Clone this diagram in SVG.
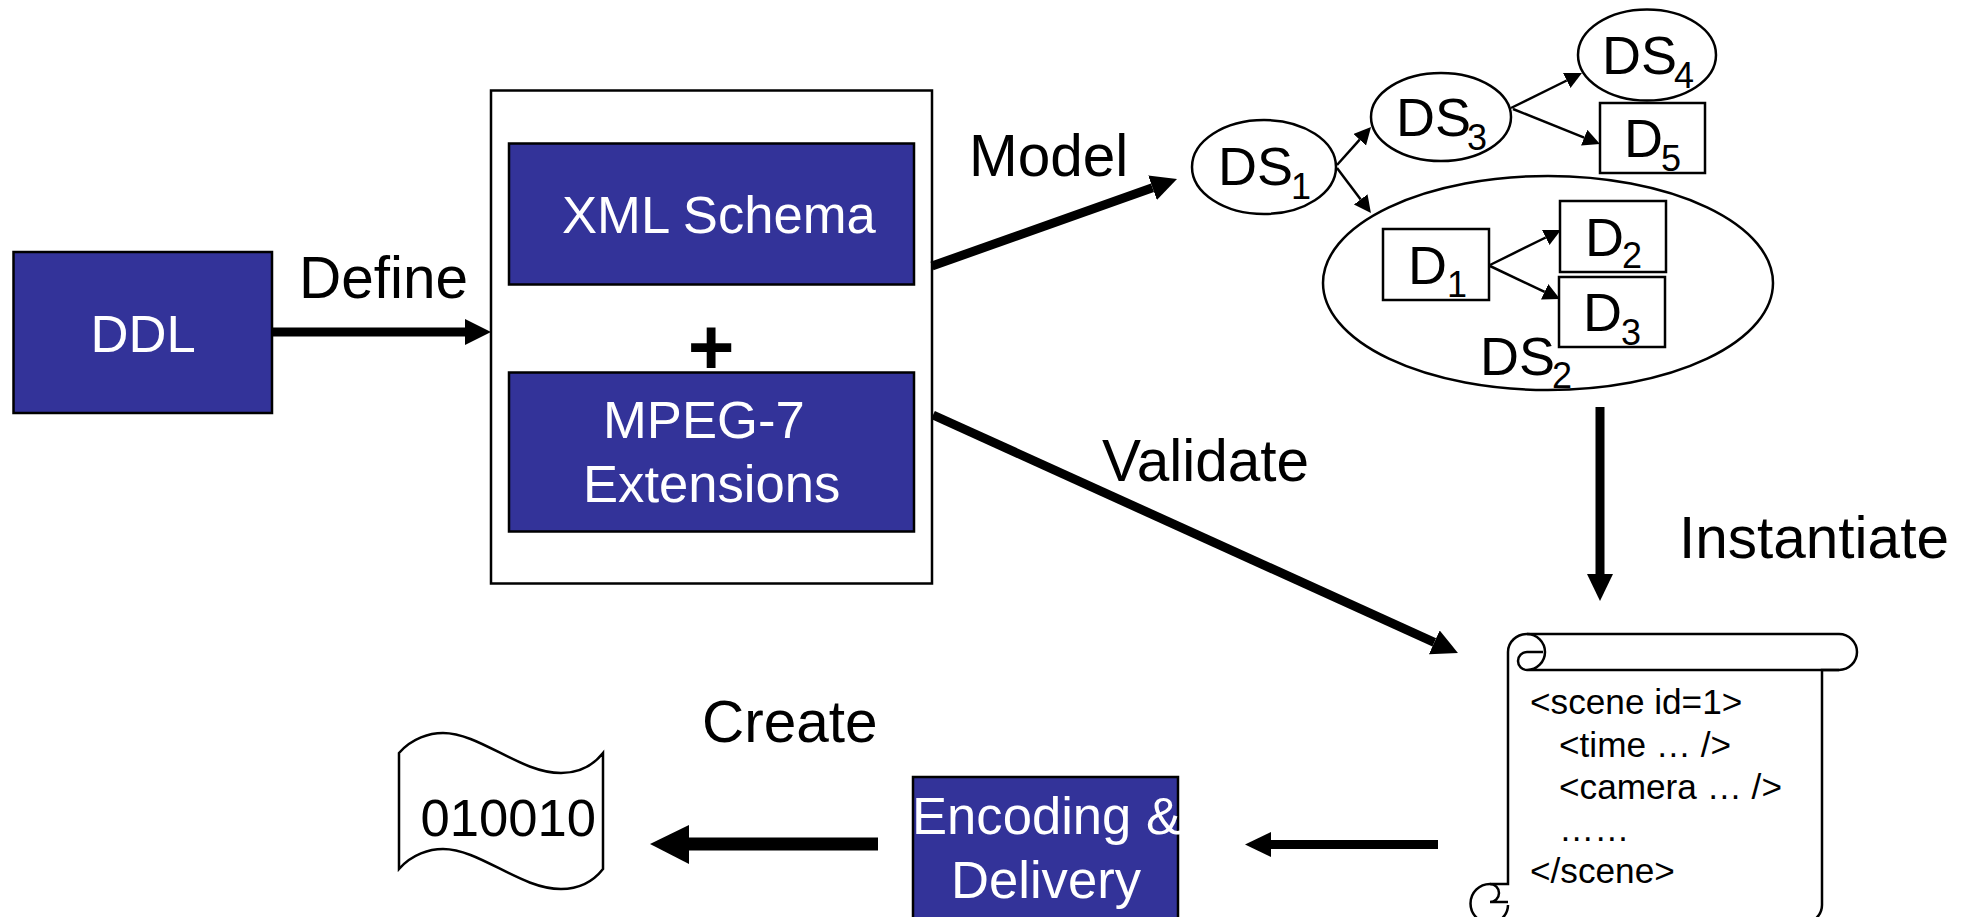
<svg xmlns="http://www.w3.org/2000/svg" width="1965" height="917" viewBox="0 0 1965 917">
<style>
text{font-family:"Liberation Sans",Arial,sans-serif;fill:#000}
.t{font-size:58.5px}.w{font-size:52.6px;fill:#fff}.n{font-size:54px}.z{font-size:52.6px}.s{font-size:36px}.c{font-size:35.2px}
.b{fill:#333399;stroke:#000;stroke-width:2.5}
.o{fill:#fff;stroke:#000;stroke-width:2.5}
.l{fill:none;stroke:#000;stroke-width:2.5}
.a9{fill:none;stroke:#000;stroke-width:9}
</style>
<defs>
<marker id="h" markerUnits="userSpaceOnUse" markerWidth="18" markerHeight="18" refX="0" refY="8.5" orient="auto"><path d="M0 0L17 8.5L0 17Z"/></marker>
<marker id="H" markerUnits="userSpaceOnUse" markerWidth="28" markerHeight="28" refX="0" refY="13" orient="auto"><path d="M0 0L26 13L0 26Z"/></marker>
</defs>
<rect width="1965" height="917" fill="#fff"/>
<g id="ddl"><rect class="b" x="13.5" y="252" width="258.5" height="161"/><text class="w" x="90.5" y="352">DDL</text></g>
<g id="container"><rect class="o" x="491" y="90.5" width="441" height="493"/></g>
<g id="xml-schema"><rect class="b" x="509" y="143.5" width="405" height="141"/><text class="w" x="562" y="233">XML Schema</text></g>
<text id="plus" x="711" y="373.5" font-size="80" font-weight="bold" text-anchor="middle">+</text>
<g id="mpeg7"><rect class="b" x="509" y="372.5" width="405" height="159"/><text class="w" x="603" y="438">MPEG-7</text><text class="w" x="583" y="502">Extensions</text></g>
<g id="ds1"><ellipse class="o" cx="1264" cy="167" rx="72" ry="47"/><text class="n" x="1218" y="185">DS</text><text class="s" x="1291" y="199">1</text></g>
<g id="ds3"><ellipse class="o" cx="1441" cy="117" rx="70" ry="44"/><text class="n" x="1396" y="136">DS</text><text class="s" x="1467" y="150">3</text></g>
<g id="ds4"><ellipse class="o" cx="1647" cy="55" rx="69" ry="45.5"/><text class="n" x="1602" y="74">DS</text><text class="s" x="1674" y="88">4</text></g>
<g id="d5"><rect class="o" x="1600" y="103" width="105" height="70"/><text class="n" x="1624" y="157">D</text><text class="s" x="1661" y="171">5</text></g>
<g id="ds2"><ellipse class="o" cx="1548" cy="283" rx="225" ry="107"/><text class="n" x="1480" y="375">DS</text><text class="s" x="1552" y="388">2</text></g>
<g id="d1"><rect class="o" x="1383" y="229" width="106" height="71"/><text class="n" x="1408" y="284">D</text><text class="s" x="1447" y="297">1</text></g>
<g id="d2"><rect class="o" x="1560" y="201" width="106" height="71"/><text class="n" x="1585" y="256">D</text><text class="s" x="1622" y="268">2</text></g>
<g id="d3"><rect class="o" x="1559" y="277" width="106" height="70"/><text class="n" x="1583" y="331">D</text><text class="s" x="1621" y="345">3</text></g>
<g id="scroll">
<path class="o" d="M1508 652A19 18 0 0 1 1527 634H1839A18 18 0 0 1 1839 670H1822V905A18 18 0 0 1 1804 923H1490A18 18 0 0 1 1490 884H1508Z"/>
<path class="l" d="M1527 634A18 18 0 0 1 1527 670A8.5 8.5 0 0 1 1527 652H1543M1527 670H1839M1490 884A9 9 0 0 1 1490 902H1508M1490 923A18 18 0 0 0 1508 905"/>
<text class="c" x="1530" y="714">&lt;scene id=1&gt;</text>
<text class="c" x="1559" y="757">&lt;time … /&gt;</text>
<text class="c" x="1559" y="799">&lt;camera … /&gt;</text>
<text class="c" x="1559" y="841">……</text>
<text class="c" x="1530" y="883">&lt;/scene&gt;</text>
</g>
<g id="encoding"><rect class="b" x="913" y="777" width="265" height="160"/><text class="w" x="912" y="834">Encoding &amp;</text><text class="w" x="951" y="898">Delivery</text></g>
<g id="bitstream"><path class="o" d="M399 753C412 738 430 733 443 733C480 733 520 773 561 773C578 773 592 767 603 753V869C592 883 578 889 561 889C520 889 480 849 443 849C430 849 412 854 399 869Z"/><text class="z" x="420.5" y="836">010010</text></g>
<g id="labels">
<text class="t" x="299" y="298">Define</text>
<text class="t" x="969" y="176">Model</text>
<text class="t" x="1102" y="481">Validate</text>
<text class="t" x="1679" y="558">Instantiate</text>
<text class="t" x="702" y="742">Create</text>
</g>
<g id="connectors">
<path class="a9" d="M272 332H465"/><path d="M465 319L491 332L465 345Z"/>
<path class="a9" d="M932 266L1152.5 187.7" marker-end="url(#H)"/>
<path class="a9" d="M933 415L1434.3 642.3" marker-end="url(#H)"/>
<path class="a9" d="M1600 407V575"/><path d="M1587 574L1600 601L1613 574Z"/>
<path d="M1438 844.5H1271" fill="none" stroke="#000" stroke-width="9"/><path d="M1271 832L1245 844.5L1271 857Z"/>
<path d="M878 844H689" fill="none" stroke="#000" stroke-width="13"/><path d="M689 825L650 844L689 864Z"/>
<g class="l">
<path d="M1337 165L1359.7 139.7" marker-end="url(#h)"/>
<path d="M1337 168L1360.7 199.4" marker-end="url(#h)"/>
<path d="M1511 108L1566.7 80.5" marker-end="url(#h)"/>
<path d="M1513 109L1584.2 137.7" marker-end="url(#h)"/>
<path d="M1490 265L1545.7 237.5" marker-end="url(#h)"/>
<path d="M1490 266L1544.6 291.8" marker-end="url(#h)"/>
</g>
</g>
</svg>
